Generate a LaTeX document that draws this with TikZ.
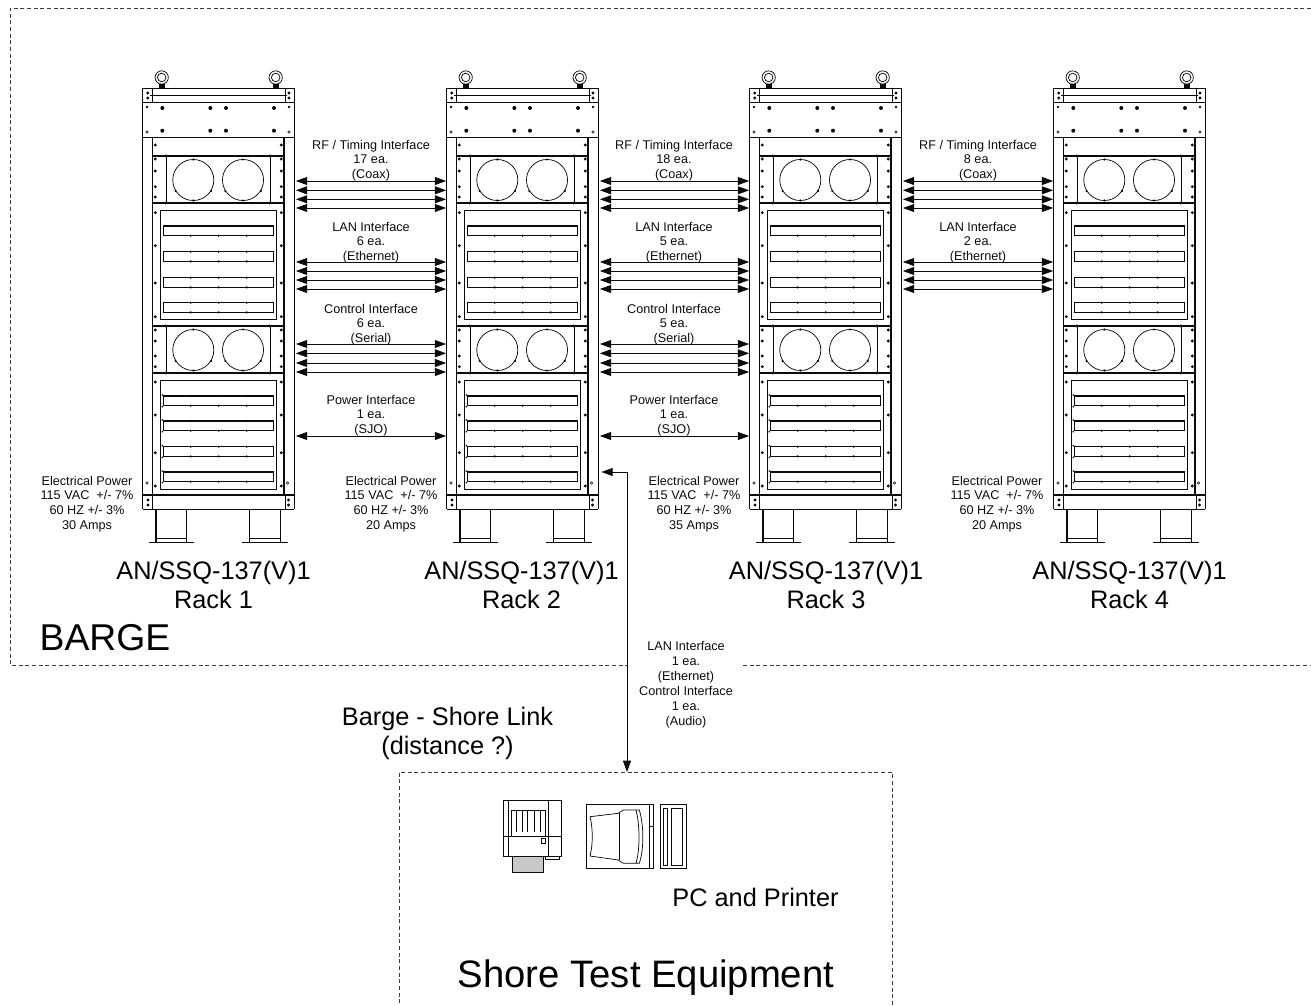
\documentclass[tikz,border=0pt]{standalone}
\usepackage{fontspec}
\setmainfont{Liberation Sans}
\usetikzlibrary{arrows.meta,positioning,calc}
\definecolor{ink}{HTML}{0B0B0B}
\definecolor{ink2}{HTML}{3C3C3C}
\definecolor{paper}{HTML}{C8C8C8}
\tikzset{
  every picture/.style={line cap=butt, line join=miter},
  biarr/.style={{Triangle[length=8.5pt,width=6pt]}-{Triangle[length=8.5pt,width=6pt]}, draw=ink, line width=0.6pt},
  part/.style={draw=ink, line width=0.55pt},
  heavy/.style={draw=ink, line width=0.95pt},
  bolt/.style={fill=ink, draw=none},
  dashbox/.style={draw=ink2, line width=0.6pt, dash pattern=on 3pt off 2pt},
  rackbody/.style={inner sep=0pt, outer sep=0pt, minimum width=113.5pt, minimum height=315.75pt},
  shorebox/.style={dashbox, inner sep=0pt, outer sep=0pt, minimum width=369.75pt, minimum height=180pt},
  lbl/.style={font=\fontsize{9.5}{11}\selectfont, text=ink, align=center, inner sep=0pt},
  elbl/.style={font=\fontsize{9.5}{11}\selectfont, text=ink, align=center, inner sep=0pt},
  racklbl/.style={font=\fontsize{19}{21.7}\selectfont, text=black, align=center, inner sep=0pt},
  biglbl/.style={font=\fontsize{28}{32}\selectfont, text=black, inner sep=0pt},
  rack/.pic={
    % eye bolts
    \foreach \x in {161.7,275.7} {
      \draw[part] (\x,77.5) circle[radius=5pt];
      \draw[part] (\x,77.5) circle[radius=3.2pt];
      \fill[bolt] (\x-3,84) rectangle (\x+3,88);
    }
    % top plates
    \draw[part] (142.7,88) rectangle (294,102);
    \draw[part] (142.7,102) rectangle (294,137);
    \draw[part] (152,88) -- (152,102) (285,88) -- (285,102);
    \draw[heavy] (150,95.7) -- (287,95.7);
    \foreach \x in {147.7,289} {
      \fill[bolt] (\x,93) circle[radius=1.2pt] (\x,98) circle[radius=1.2pt];
    }
    \foreach \x in {162.3,210.3,226,274} {
      \fill[bolt] (\x,108) circle[radius=1.5pt] (\x,130.7) circle[radius=1.5pt];
    }
    \fill[bolt] (147,107) circle[radius=1pt] (289,107) circle[radius=1pt];
    \draw[part, line width=0.4pt] (147,132) circle[radius=0.9pt] (289,132) circle[radius=0.9pt];
    % posts
    \draw[part] (142.7,137) -- (142.7,509) (294,137) -- (294,509);
    \draw[part, line width=0.8pt] (152.7,137) -- (152.7,495) (284,137) -- (284,495);
    \foreach \y in {145,159,171,186.7,197,212.7,245.7,283,316.7,330,341,356,366.7,382,415,452.7,486} {
      \fill[bolt] (155.3,\y) circle[radius=1.2pt] (281.3,\y) circle[radius=1.2pt];
    }
    % fan panels
    \foreach \t/\m/\b in {156/180/203,326/350/373} {
      \draw[heavy] (152.7,\t) -- (284,\t) (152.7,\b) -- (284,\b);
      \draw[part, line width=0.7pt] (166,\t) -- (166,\b) (270,\t) -- (270,\b);
      \fill[bolt] (166,\t) circle[radius=1.3pt] (270,\t) circle[radius=1.3pt]
        (166,\b) circle[radius=1.3pt] (270,\b) circle[radius=1.3pt];
      \foreach \x in {193.3,243} {
        \draw[part] (\x,\m) circle[radius=15.4pt];
        \fill[bolt] (\x,\m-20.5) circle[radius=0.9pt] (\x,\m+20.5) circle[radius=0.9pt]
          (\x-17.8,\m+11) circle[radius=0.9pt] (\x+17.8,\m+11) circle[radius=0.9pt];
      }
    }
    % slotted panels
    \draw[part] (160,210) rectangle (276.7,319);
    \draw[part] (160,380) rectangle (276.7,489);
    \foreach \y in {226,251.7,277.7,302.7,396,421,446.7,472} {
      \draw[heavy] (163.5,\y) rectangle (273.3,\y+9.7);
      \foreach \x in {190.7,218.7,246.7} {
        \fill[bolt] (\x,\y) circle[radius=0.9pt] (\x,\y+9.7) circle[radius=0.9pt];
      }
    }
    \foreach \y in {396,421,446.7,472} {
      \fill[bolt] (162.3,\y-1) circle[radius=0.7pt] (162.3,\y+10.7) circle[radius=0.7pt];
    }
    % base and feet
    \draw[heavy] (142.7,495) -- (294,495);
    \draw[part] (142.7,509.3) -- (294,509.3) (152,495) -- (152,509.3) (285,495) -- (285,509.3);
    \foreach \x in {148,288.5} {
      \fill[bolt] (\x,500) circle[radius=1.2pt] (\x,505) circle[radius=1.2pt];
      \draw[part, line width=0.4pt] (\x-1,483) circle[radius=0.9pt];
    }
    \foreach \a/\b/\c/\d in {156/186.7/149/194,249.3/280.7/242/288} {
      \draw[part, line width=0.8pt] (\a,509.3) -- (\a,542) (\b,509.3) -- (\b,542);
      \draw[part] (\a,538.5) -- (\b,538.5);
      \draw[heavy] (\c,542.5) -- (\d,542.5);
    }
  },
}

\begin{document}
\begin{tikzpicture}[x=0.75pt, y=-0.75pt]
  \useasboundingbox (0,0) rectangle (1311,1006);

  % ---------------- barge outline ----------------
  \draw[dashbox] (1311,8) -- (10,8) -- (10,665) -- (628,665) (743,665) -- (1311,665);
  \node[biglbl] (barge) at (105,638) {BARGE};

  % ---------------- the four racks ----------------
  \foreach \r/\dx/\lx in {1/0/213.5,2/304/521.5,3/607/826,4/911/1129.5} {
    \node[rackbody] (rack\r) at (218.35+\dx,298.5) {};
    \pic at (\dx,0) {rack};
    \node[racklbl] (name\r) at (\lx,585) {AN/SSQ-137(V)1\\Rack \r};
  }

  % ---------------- electrical power ----------------
  \node[elbl] (power1) at (87,504) {Electrical Power\\115 VAC\ \ +/- 7\%\\60 HZ +/- 3\%\\30 Amps};
  \node[elbl] (power2) at (391,504) {Electrical Power\\115 VAC\ \ +/- 7\%\\60 HZ +/- 3\%\\20 Amps};
  \node[elbl] (power3) at (694,504) {Electrical Power\\115 VAC\ \ +/- 7\%\\60 HZ +/- 3\%\\35 Amps};
  \node[elbl] (power4) at (997,504) {Electrical Power\\115 VAC\ \ +/- 7\%\\60 HZ +/- 3\%\\20 Amps};

  % ---------------- interfaces between racks ----------------
  \foreach \a/\b/\dx/\rf in {1/2/0/17,2/3/303/18,3/4/607/8} {
    \node[lbl] (rf\a) at (371+\dx,160.5) {RF / Timing Interface\\\rf{} ea.\\(Coax)};
    \foreach \y in {181,190.3,199.3,208} {
      \draw[biarr, shorten <=1.4pt, shorten >=0.4pt] (rack\a.east |- 0,\y) -- (rack\b.west |- 0,\y);
    }
    \foreach \y in {262,271,280,289} {
      \draw[biarr, shorten <=1.4pt, shorten >=0.4pt] (rack\a.east |- 0,\y) -- (rack\b.west |- 0,\y);
    }
  }
  \node[lbl] (lan1) at (371,242.5) {LAN Interface\\6 ea.\\(Ethernet)};
  \node[lbl] (lan2) at (674,242.5) {LAN Interface\\5 ea.\\(Ethernet)};
  \node[lbl] (lan3) at (978,242.5) {LAN Interface\\2 ea.\\(Ethernet)};
  \node[lbl] (ctl1) at (371,324.5) {Control Interface\\6 ea.\\(Serial)};
  \node[lbl] (ctl2) at (674,324.5) {Control Interface\\5 ea.\\(Serial)};
  \node[lbl] (pow1) at (371,415.5) {Power Interface\\1 ea.\\(SJO)};
  \node[lbl] (pow2) at (674,415.5) {Power Interface\\1 ea.\\(SJO)};
  \foreach \a/\b in {1/2,2/3} {
    \foreach \y in {344,353.3,363,372} {
      \draw[biarr, shorten <=1.4pt, shorten >=0.4pt] (rack\a.east |- 0,\y) -- (rack\b.west |- 0,\y);
    }
    \draw[biarr, shorten <=1.4pt, shorten >=0.4pt] (rack\a.east |- 0,436) -- (rack\b.west |- 0,436);
  }

  % ---------------- barge - shore link ----------------
  \node[shorebox] (shore) at (645.5,892) {};
  \coordinate (linkbend) at (627,472);
  \draw[biarr, shorten <=2.5pt] (rack2.east |- linkbend) -- (linkbend) -- (shore.north -| linkbend);
  \node[lbl, font=\fontsize{9.5}{11.2}\selectfont] (linklbl) at (686,684.5) {LAN Interface\\1 ea.\\(Ethernet)\\Control Interface\\1 ea.\\(Audio)};
  \node[racklbl] (linkname) at (447.5,733) {Barge - Shore Link\\(distance ?)};

  % ---------------- printer ----------------
  \draw[part] (503.3,800) rectangle (561,856);
  \draw[part] (508,800) -- (508,856) (548.3,800) -- (548.3,856) (503.3,836.7) -- (561,836.7);
  \draw[part] (511,836.7) -- (511,810) -- (545.7,810) -- (545.7,836.7);
  \foreach \x in {516.7,522.3,527.7,534,540} {
    \draw[part] (\x,810) -- (\x,831.7);
  }
  \draw[part, fill=paper] (512.3,856) rectangle (543.7,872.7);
  \draw[part] (545,856) rectangle (559,859);
  \draw[part] (541.7,838) rectangle (545.7,843);

  % ---------------- pc ----------------
  \draw[part] (586.7,804.3) rectangle (653.3,868.3);
  \draw[part] (649.3,804.3) -- (649.3,868.3) (649.3,826) -- (653.3,826);
  \draw[part] (590,816.7) -- (618.3,813.3) -- (623.3,810) -- (639.3,810)
    .. controls (644,825) and (644,850) .. (639.3,863.3) -- (623.3,863.3) -- (618.3,860) -- (590,856)
    .. controls (593,845) and (593,828) .. (590,816.7);
  \draw[part] (619.3,813.3) -- (619.3,860);
  \draw[part] (636,810) .. controls (640,825) and (640,850) .. (636,863.3);
  \draw[part] (660.3,804.3) rectangle (686,868.3);
  \draw[part] (663.7,808.3) rectangle (667.7,865);
  \draw[part] (671,808.3) rectangle (682.7,865);
  \node[racklbl] (pclbl) at (755.5,897) {PC and Printer};

  \node[biglbl, font=\fontsize{28.7}{32}\selectfont] (shorelbl) at (646,977.5) {Shore Test Equipment};
\end{tikzpicture}
\end{document}
